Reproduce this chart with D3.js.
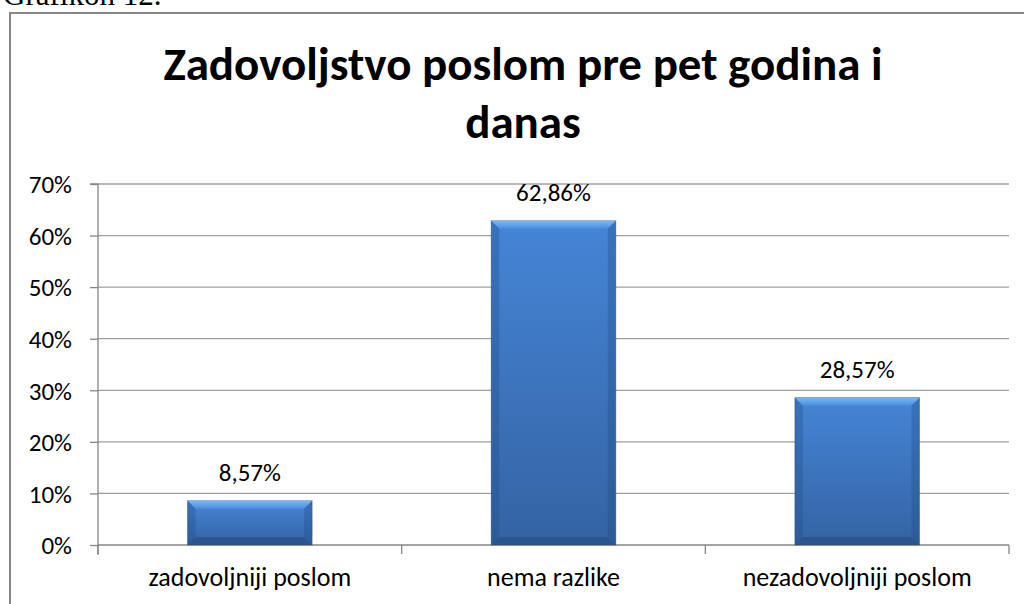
<!DOCTYPE html>
<html>
<head>
<meta charset="utf-8">
<script src="https://cdn.jsdelivr.net/npm/d3@7"></script>
<style>
  body { margin: 0; background: #fff; }
  svg { display: block; }
</style>
</head>
<body>
<div id="chart"></div>
<script>
var categories = ['zadovoljniji poslom', 'nema razlike', 'nezadovoljniji poslom'];
var values = [0.0857, 0.6286, 0.2857];
var valueLabels = ['8,57%', '62,86%', '28,57%'];
var yTicks = [0, 0.1, 0.2, 0.3, 0.4, 0.5, 0.6, 0.7];
var titleLines = ['Zadovoljstvo poslom pre pet godina i', 'danas'];
var caption = 'Grafikon 12.';

var width = 1024,
    height = 604,
    font = 'Calibri, Carlito, "Open Sans", sans-serif';

var svg = d3.select('#chart').append('svg')
    .attr('width', width)
    .attr('height', height);

// caption above the chart frame, cut by the page top
svg.append('text')
    .attr('x', 3)
    .attr('y', 5)
    .attr('font-family', '"Liberation Serif", "Times New Roman", serif')
    .attr('font-size', 31)
    .attr('fill', '#000')
    .text(caption);

// chart frame, running off the right and bottom edges
svg.append('rect')
    .attr('x', 10)
    .attr('y', 13)
    .attr('width', 1030)
    .attr('height', 620)
    .attr('fill', '#fff')
    .attr('stroke', '#868686')
    .attr('stroke-width', 2);

var title = svg.append('text')
    .attr('font-family', font)
    .attr('font-weight', 'bold')
    .attr('font-size', 47)
    .attr('fill', '#000')
    .attr('text-anchor', 'middle');

title.selectAll('tspan')
    .data(titleLines)
    .enter().append('tspan')
    .attr('x', 523)
    .attr('y', function(d, i) { return 80 + i * 58; })
    .text(function(d) { return d; });

var margin = { left: 98, right: 1009, top: 184, bottom: 545 };

var x = d3.scaleBand()
    .domain(categories)
    .range([margin.left, margin.right]);

var y = d3.scaleLinear()
    .domain([0, 0.7])
    .range([margin.bottom, margin.top]);

// gridlines
svg.append('g')
    .selectAll('line')
    .data(yTicks.slice(1))
    .enter().append('line')
    .attr('x1', margin.left)
    .attr('x2', margin.right)
    .attr('y1', function(d) { return y(d); })
    .attr('y2', function(d) { return y(d); })
    .attr('stroke', '#a0a0a0')
    .attr('stroke-width', 1.3);

// y axis
var yAxis = svg.append('g')
    .attr('transform', 'translate(' + margin.left + ',0)')
    .call(d3.axisLeft(y)
        .tickValues(yTicks)
        .tickSize(8)
        .tickPadding(18)
        .tickFormat(function(d) { return Math.round(d * 100) + '%'; }));

yAxis.select('.domain')
    .attr('d', 'M-8,' + margin.top + 'H0V' + (margin.bottom + 10));

// x axis
var xAxis = svg.append('g')
    .attr('transform', 'translate(0,' + margin.bottom + ')')
    .call(d3.axisBottom(x).tickSize(0).tickPadding(23));

xAxis.select('.domain')
    .attr('d', 'M' + margin.left + ',0H' + margin.right);

// category separators on the x axis
xAxis.selectAll('.sep')
    .data(d3.range(categories.length + 1))
    .enter().append('line')
    .attr('class', 'sep')
    .attr('x1', function(i) { return margin.left + i * x.step(); })
    .attr('x2', function(i) { return margin.left + i * x.step(); })
    .attr('y1', 0)
    .attr('y2', 9)
    .attr('stroke', '#868686')
    .attr('stroke-width', 1.3);

svg.selectAll('.domain, .tick line')
    .attr('stroke', '#868686')
    .attr('stroke-width', 1.3);

svg.selectAll('.tick text')
    .attr('font-family', font)
    .attr('font-size', 25)
    .attr('fill', '#000');

yAxis.selectAll('.tick text').attr('dy', '0.35em');
xAxis.selectAll('.tick text').attr('font-size', 26);

// bar gradients
var defs = svg.append('defs');

var body = defs.append('linearGradient')
    .attr('id', 'barBody')
    .attr('x1', 0).attr('y1', 0).attr('x2', 0).attr('y2', 1);
body.append('stop').attr('offset', '0%').attr('stop-color', '#4585d6');
body.append('stop').attr('offset', '100%').attr('stop-color', '#3463a3');

var topBevel = defs.append('linearGradient')
    .attr('id', 'barTop')
    .attr('x1', 0).attr('y1', 0).attr('x2', 0).attr('y2', 1);
topBevel.append('stop').attr('offset', '0%').attr('stop-color', '#7ab8f5');
topBevel.append('stop').attr('offset', '100%').attr('stop-color', '#4a8ddc');

var barWidth = x.bandwidth() * 0.41,
    bevel = 8;

var bars = svg.append('g')
    .selectAll('g')
    .data(categories)
    .enter().append('g')
    .attr('transform', function(d) {
        return 'translate(' + (x(d) + (x.bandwidth() - barWidth) / 2) + ',0)';
    });

bars.append('rect')
    .attr('x', 0)
    .attr('y', function(d, i) { return y(values[i]); })
    .attr('width', barWidth)
    .attr('height', function(d, i) { return y(0) - y(values[i]); })
    .attr('fill', 'url(#barBody)')
    .attr('stroke', '#2c5282')
    .attr('stroke-opacity', 0.5)
    .attr('stroke-width', 1);

// bevel facets
function facet(sel, fill, opacity, pts) {
    sel.append('path')
        .attr('fill', fill)
        .attr('fill-opacity', opacity)
        .attr('d', function(d, i) {
            var t = y(values[i]), b = y(0), w = barWidth;
            var b2 = Math.min(bevel, (b - t) / 2);
            return 'M' + pts(t, b, w, b2).map(function(p) { return p.join(','); }).join('L') + 'Z';
        });
}

facet(bars, 'url(#barTop)', 1, function(t, b, w, e) {
    return [[0, t], [w, t], [w - e, t + e], [e, t + e]];
});
facet(bars, '#1f4a80', 0.3, function(t, b, w, e) {
    return [[0, t], [e, t + e], [e, b - e], [0, b]];
});
facet(bars, '#1f4a80', 0.3, function(t, b, w, e) {
    return [[w, t], [w - e, t + e], [w - e, b - e], [w, b]];
});
facet(bars, '#1d3f6e', 0.4, function(t, b, w, e) {
    return [[0, b], [e, b - e], [w - e, b - e], [w, b]];
});

// value labels
svg.append('g')
    .selectAll('text')
    .data(categories)
    .enter().append('text')
    .attr('x', function(d) { return x(d) + x.bandwidth() / 2; })
    .attr('y', function(d, i) { return y(values[i]) - 20; })
    .attr('text-anchor', 'middle')
    .attr('font-family', font)
    .attr('font-size', 25)
    .attr('fill', '#000')
    .text(function(d, i) { return valueLabels[i]; });
</script>
</body>
</html>
